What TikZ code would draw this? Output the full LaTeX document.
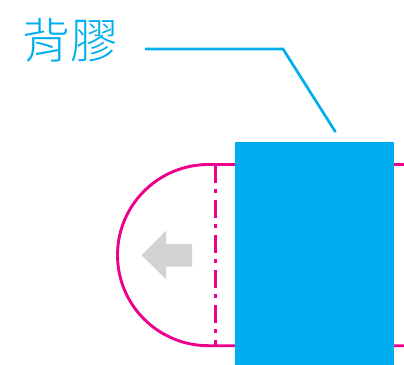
\documentclass[tikz,border=0pt]{standalone}
\usepackage{fontspec}
\newfontfamily\cjk[UprightFont=* Light]{Noto Sans CJK TC}
\definecolor{cyanblue}{RGB}{0,174,239}
\definecolor{hotpink}{RGB}{236,0,140}
\definecolor{arrowgray}{RGB}{209,211,212}
\tikzset{
  outline/.style={draw=hotpink,line width=2.9pt},
  foldline/.style={draw=hotpink,line width=3pt,dash pattern=on 18.3pt off 6pt on 4.3pt off 6.4pt},
  leader/.style={draw=cyanblue,line width=2.7pt,line join=miter},
  labeltext/.style={text=cyanblue,font=\cjk\fontsize{48}{48}\selectfont,inner sep=0pt,anchor=center}
}
\begin{document}
\begin{tikzpicture}[x=1pt,y=-1pt]
\useasboundingbox (0,0) rectangle (404,364);
% pink flap outline
\draw[outline] (404,164.5) -- (208.5,164.5) arc[start angle=90,end angle=270,x radius=91,y radius=-90.6] -- (404,345.7);
\draw[foldline] (215.3,164.5) -- (215.3,345.7);
% grey arrow
\fill[arrowgray] (141.7,255.3) -- (166,230.7) -- (166,244) -- (192,244) -- (192,266.7) -- (166,266.7) -- (166,279.3) -- cycle;
% blue tape
\fill[cyanblue] (235,142) rectangle (394,368);
% label and leader
\node[labeltext] (label) at (70,40.5) {背膠};
\coordinate (start) at (145,49);
\coordinate (bend) at (283,49);
\coordinate (tip) at (335.5,132);
\draw[leader] (start) -- (bend) -- (tip);
\end{tikzpicture}
\end{document}
